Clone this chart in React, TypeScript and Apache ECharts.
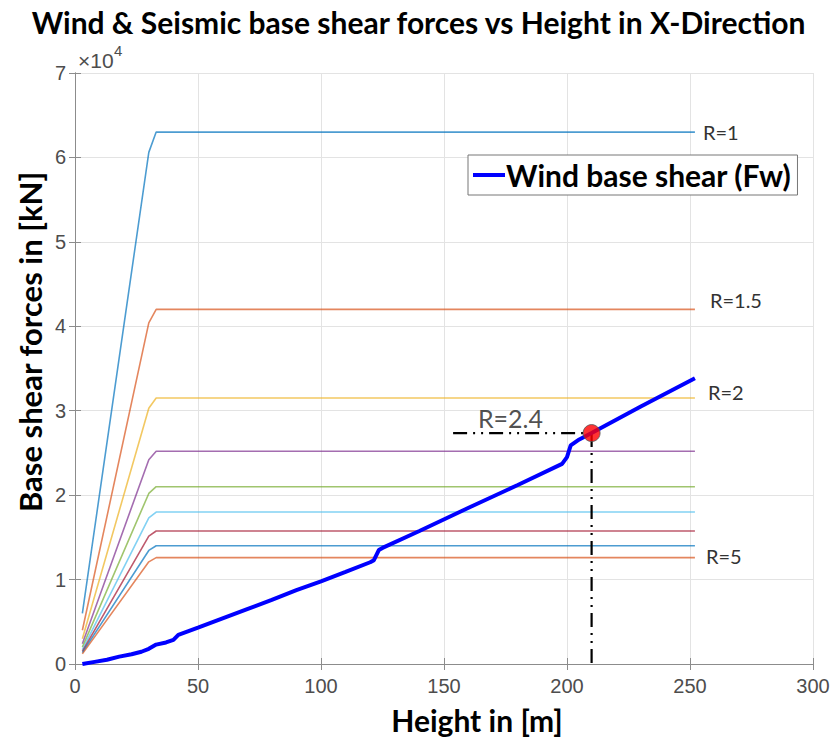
import React, { useEffect, useRef } from "react";
import * as echarts from "echarts";

const title = "Wind & Seismic base shear forces vs Height in X-Direction";
const xTitle = "Height in [m]";
const yTitle = "Base shear forces in [kN]";
const windName = "Wind base shear (Fw)";

const rValues = ["1", "1.5", "2", "2.5", "3", "3.5", "4", "4.5", "5"];
const rLabels = ["R=1", "R=1.5", "R=2", "", "", "", "", "", "R=5"];
const seismicColors = ["#0072BD", "#D95319", "#EDB120", "#7E2F8E", "#77AC30", "#4DBEEE", "#A2142F", "#0072BD", "#D95319"];

const seismicR1 = [[3, 6000], [30, 60600], [33, 63000], [252, 63000]];
const seismicR15 = [[3, 4000], [30, 40400], [33, 42000], [252, 42000]];
const seismicR2 = [[3, 3000], [30, 30300], [33, 31500], [252, 31500]];
const seismicR25 = [[3, 2400], [30, 24200], [33, 25200], [252, 25200]];
const seismicR3 = [[3, 2000], [30, 20200], [33, 21000], [252, 21000]];
const seismicR35 = [[3, 1700], [30, 17300], [33, 18000], [252, 18000]];
const seismicR4 = [[3, 1500], [30, 15150], [33, 15750], [252, 15750]];
const seismicR45 = [[3, 1350], [30, 13450], [33, 14000], [252, 14000]];
const seismicR5 = [[3, 1200], [30, 12100], [33, 12600], [252, 12600]];
const seismicSeries = [seismicR1, seismicR15, seismicR2, seismicR25, seismicR3, seismicR35, seismicR4, seismicR45, seismicR5];

const windShear = [
  [3, 0], [8, 250], [13, 500], [18, 870], [23, 1150], [27, 1450], [30, 1800], [33, 2300],
  [37, 2550], [40, 2850], [42, 3450], [50, 4300], [60, 5400], [70, 6500], [80, 7600],
  [90, 8750], [100, 9800], [110, 10900], [120, 12050], [121.5, 12300], [123.5, 13500],
  [125, 13750], [140, 15750], [160, 18500], [180, 21200], [198, 23700], [200, 24500],
  [201.5, 25900], [205, 26600], [210, 27350], [230, 30500], [252, 33850],
];

const designPoint = [[210, 27350]];
const designHoriz = [[153.7, 27350], [210, 27350]];
const designVert = [[210, 27350], [210, 0]];
const designLabelPos = [[177, 29150]];
const designLabel = "R=2.4";

const xMin = 0, xMax = 300, xStep = 50;
const yMin = 0, yMax = 70000, yStep = 10000;

const endLabelOffsets = [[0, 0], [7, -9], [5, -6], [0, 0], [0, 0], [0, 0], [0, 0], [0, 0], [3, -2]];

export default function App() {
  const ref = useRef<HTMLDivElement>(null);
  useEffect(() => {
    if (!ref.current) return;
    const chart = echarts.init(ref.current, null, { renderer: "svg" });
    const tickFont = { fontFamily: "Liberation Sans", fontSize: 20, color: "#4d4d4d" };
    const axisLine = { show: true, lineStyle: { color: "#8c8c8c", width: 1 } };
    const series: any[] = seismicSeries.map((d, i) => ({
      name: "R=" + rValues[i],
      type: "line",
      data: d,
      showSymbol: false,
      lineStyle: { color: seismicColors[i], width: 1.6, opacity: 0.7 },
      itemStyle: { color: seismicColors[i] },
      z: 2,
      endLabel: rLabels[i]
        ? {
            show: true,
            formatter: rLabels[i],
            offset: endLabelOffsets[i],
            fontFamily: "Lato",
            fontSize: 20,
            color: "#333",
          }
        : { show: false },
    }));
    series.push({
      name: windName,
      type: "line",
      data: windShear,
      showSymbol: false,
      lineStyle: { color: "#0000ff", width: 4 },
      itemStyle: { color: "#0000ff" },
      z: 4,
    });
    series.push({
      type: "line",
      data: designHoriz,
      showSymbol: false,
      lineStyle: { color: "#000", width: 2.2, type: [14, 6, 2, 6, 2, 6] },
      z: 3,
    });
    series.push({
      type: "line",
      data: designVert,
      showSymbol: false,
      lineStyle: { color: "#000", width: 2.2, type: [14, 6, 2, 6, 2, 6] },
      z: 3,
    });
    series.push({
      type: "scatter",
      data: designPoint,
      symbolSize: 17,
      itemStyle: { color: "#ff0000", borderColor: "#555", borderWidth: 1 },
      z: 6,
    });
    series.push({
      type: "scatter",
      data: designLabelPos,
      symbolSize: 0.1,
      itemStyle: { color: "rgba(0,0,0,0)" },
      label: {
        show: true,
        position: "inside",
        formatter: designLabel,
        fontFamily: "Lato",
        fontSize: 25,
        color: "#222",
      },
      z: 6,
    });

    chart.setOption({
      animation: false,
      backgroundColor: "#fff",
      title: {
        text: title,
        left: "center",
        top: 2,
        textStyle: { fontFamily: "Lato", fontWeight: "bold", fontSize: 30, color: "#000" },
      },
      legend: {
        data: [windName],
        left: 468,
        top: 155,
        orient: "vertical",
        icon: "rect",
        itemWidth: 32,
        itemHeight: 4,
        itemGap: 0,
        padding: [5, 6, 5, 5],
        borderColor: "#777",
        borderWidth: 1,
        backgroundColor: "#fff",
        textStyle: { fontFamily: "Lato", fontWeight: "bold", fontSize: 30, color: "#000", padding: [0, 0, 0, -4] },
      },
      grid: { left: 75, top: 73, width: 738, height: 591 },
      xAxis: [
        {
          type: "value",
          min: xMin,
          max: xMax,
          interval: xStep,
          axisLine,
          axisTick: { show: true, inside: true, length: 6, lineStyle: { color: "#8c8c8c" } },
          axisLabel: { ...tickFont, margin: 12 },
          splitLine: { show: true, lineStyle: { color: "#e3e3e3", width: 1 } },
        },
        {
          type: "value",
          position: "top",
          min: xMin,
          max: xMax,
          interval: xStep,
          axisLine,
          axisTick: { show: true, inside: true, length: 6, lineStyle: { color: "#8c8c8c" } },
          axisLabel: { show: false },
          splitLine: { show: false },
        },
      ],
      yAxis: [
        {
          type: "value",
          min: yMin,
          max: yMax,
          interval: yStep,
          axisLine,
          axisTick: { show: true, inside: true, length: 6, lineStyle: { color: "#8c8c8c" } },
          axisLabel: { ...tickFont, margin: 9, formatter: (v: number) => String(v / 10000) },
          splitLine: { show: true, lineStyle: { color: "#e3e3e3", width: 1 } },
        },
        {
          type: "value",
          position: "right",
          min: yMin,
          max: yMax,
          interval: yStep,
          axisLine,
          axisTick: { show: true, inside: true, length: 6, lineStyle: { color: "#8c8c8c" } },
          axisLabel: { show: false },
          splitLine: { show: false },
        },
      ],
      graphic: [
        {
          type: "text",
          x: 477,
          y: 720,
          style: { text: xTitle, fontFamily: "Lato", fontWeight: "bold", fontSize: 30, fill: "#000", align: "center", verticalAlign: "middle" },
        },
        {
          type: "text",
          x: 30,
          y: 342,
          rotation: Math.PI / 2,
          style: { text: yTitle, fontFamily: "Lato", fontWeight: "bold", fontSize: 31, fill: "#000", align: "center", verticalAlign: "middle" },
        },
        {
          type: "text",
          x: 78,
          y: 60,
          style: { text: "×10", fontFamily: "Liberation Sans", fontSize: 21, fill: "#4d4d4d", verticalAlign: "middle" },
        },
        {
          type: "text",
          x: 114,
          y: 50,
          style: { text: "4", fontFamily: "Liberation Sans", fontSize: 15, fill: "#4d4d4d", verticalAlign: "middle" },
        },
      ],
      series,
    });
    return () => chart.dispose();
  }, []);
  return <div ref={ref} style={{ position: "fixed", left: 0, top: 0, width: 837, height: 738 }} />;
}
